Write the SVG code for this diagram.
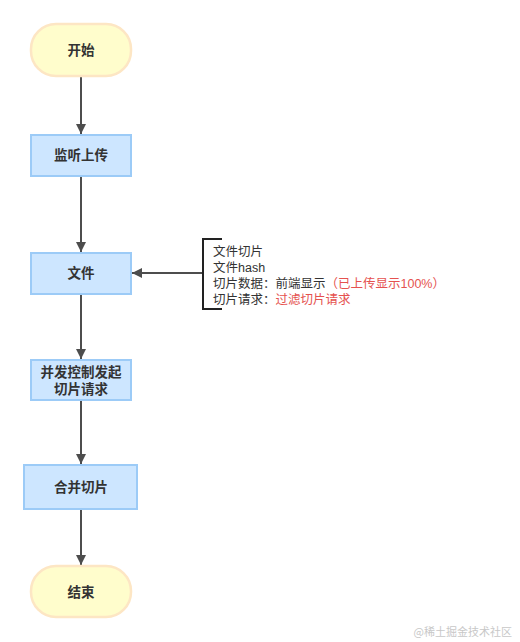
<svg xmlns="http://www.w3.org/2000/svg" width="520" height="642" viewBox="0 0 520 642">
<defs>
<marker id="ah" viewBox="0 0 10 10" refX="10" refY="5" markerWidth="5" markerHeight="5" orient="auto" markerUnits="strokeWidth">
<path d="M0,0 L10,5 L0,10 Z" fill="#4d4d4d"/>
</marker>
<style>
.term{fill:#fffdcc;stroke:#fde6c4;stroke-width:2.5}
.proc{fill:#cde6ff;stroke:#9ccbf7;stroke-width:2}
.lbl{font-family:"Liberation Sans","Noto Sans CJK SC",sans-serif;font-size:13.5px;font-weight:bold;fill:#333;text-anchor:middle}
.note{font-family:"Liberation Sans","Noto Sans CJK SC",sans-serif;font-size:12.5px;fill:#333}
.red{fill:#e5524f}
.edge{stroke:#4d4d4d;stroke-width:2;fill:none}
</style>
</defs>
<rect width="520" height="642" fill="#fff"/>
<g id="connectors">
<line class="edge" x1="81" y1="77" x2="81" y2="134" marker-end="url(#ah)"/>
<line class="edge" x1="81" y1="177" x2="81" y2="252" marker-end="url(#ah)"/>
<line class="edge" x1="81" y1="295" x2="81" y2="359" marker-end="url(#ah)"/>
<line class="edge" x1="81" y1="401" x2="81" y2="464" marker-end="url(#ah)"/>
<line class="edge" x1="81" y1="510" x2="81" y2="565" marker-end="url(#ah)"/>
<line class="edge" x1="203" y1="273" x2="132" y2="273" marker-end="url(#ah)"/>
</g>
<g id="start">
<rect class="term" x="31" y="24" width="100" height="52" rx="25" ry="25"/>
<text class="lbl" x="81" y="55">开始</text>
</g>
<g id="listen">
<rect class="proc" x="31" y="135" width="100" height="41"/>
<text class="lbl" x="81" y="160">监听上传</text>
</g>
<g id="file">
<rect class="proc" x="31" y="253" width="100" height="41"/>
<text class="lbl" x="81" y="278">文件</text>
</g>
<g id="concurrent">
<rect class="proc" x="31" y="360" width="100" height="40"/>
<text class="lbl" x="81" y="377">并发控制发起</text>
<text class="lbl" x="81" y="394">切片请求</text>
</g>
<g id="merge">
<rect class="proc" x="24" y="465" width="113" height="44"/>
<text class="lbl" x="81" y="492">合并切片</text>
</g>
<g id="end">
<rect class="term" x="31" y="566" width="100" height="51" rx="25" ry="25"/>
<text class="lbl" x="81" y="597">结束</text>
</g>
<g id="annotation">
<path d="M222,239 H203 V309 H222" fill="none" stroke="#222" stroke-width="2"/>
<text class="note" x="213" y="256">文件切片</text>
<text class="note" x="213" y="272">文件hash</text>
<text class="note" x="213" y="288">切片数据：前端显示<tspan class="red">（已上传显示100%）</tspan></text>
<text class="note" x="213" y="304">切片请求：<tspan class="red">过滤切片请求</tspan></text>
</g>
<text x="512" y="636" font-family="Noto Sans CJK SC,sans-serif" font-size="11" fill="#c8c8c8" text-anchor="end">@稀土掘金技术社区</text>
</svg>
